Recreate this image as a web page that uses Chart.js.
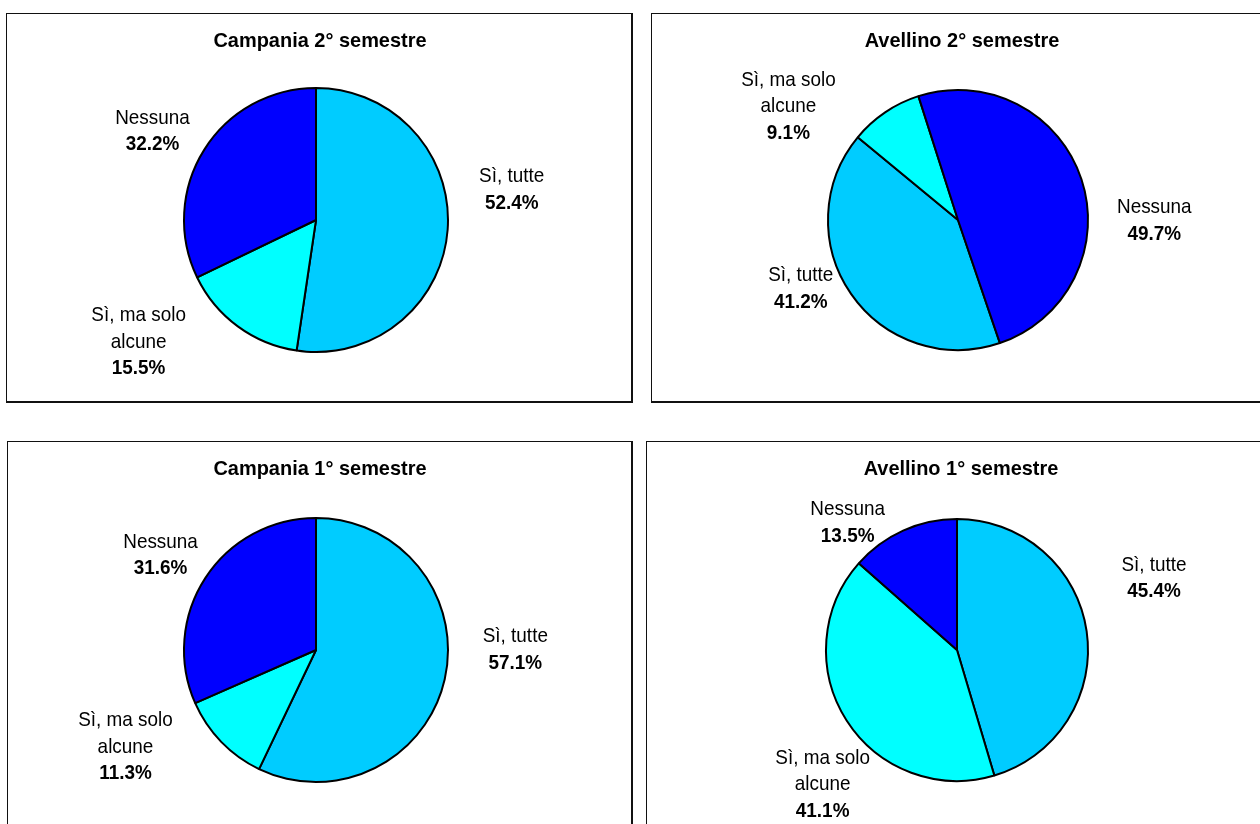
<!DOCTYPE html>
<html><head><meta charset="utf-8">
<script src="https://cdn.jsdelivr.net/npm/chart.js@4.4.1/dist/chart.umd.min.js"></script>
<style>
html,body{margin:0;padding:0;background:#fff;overflow:hidden;width:1260px;height:824px;position:relative;}
.panel{position:absolute;border:1px solid #111;border-right-width:2px;border-bottom-width:2px;box-sizing:border-box;background:#fff;}
.panel canvas{position:absolute;left:0;top:0;}
</style></head><body>
<div class="panel" style="left:6px;top:13px;width:627px;height:390px"><canvas id="c0"></canvas></div>
<div class="panel" style="left:651px;top:13px;width:627px;height:390px"><canvas id="c1"></canvas></div>
<div class="panel" style="left:7px;top:441px;width:626px;height:390px"><canvas id="c2"></canvas></div>
<div class="panel" style="left:646px;top:441px;width:627px;height:390px"><canvas id="c3"></canvas></div>
<script>
// ---- data ----
const categories = ['Sì, tutte', 'Sì, ma solo alcune', 'Nessuna'];
const categoryLines = [['Sì, tutte'], ['Sì, ma solo', 'alcune'], ['Nessuna']];
const campania2 = [52.4, 15.5, 32.2];
const avellino2 = [41.2, 9.1, 49.7];
const campania1 = [57.1, 11.3, 31.6];
const avellino1 = [45.4, 41.1, 13.5];
const chartTitles = ['Campania 2° semestre', 'Avellino 2° semestre', 'Campania 1° semestre', 'Avellino 1° semestre'];

// ---- styles / layout ----
const sliceColors = ['#00CCFF', '#00FFFF', '#0000FF'];
const FONT = '"Liberation Sans", Arial, Helvetica, sans-serif';
const setups = [
  {id:'c0', data:campania2, title:chartTitles[0], w:624, h:387, rotation:0,
   pad:{left:176,right:182,top:73,bottom:48},
   lbl:[[-13.0,1.50],[19.2,1.63],[-3.6,1.41]]},
  {id:'c1', data:avellino2, title:chartTitles[1], w:624, h:387, rotation:161.2,
   pad:{left:175,right:187,top:75,bottom:50},
   lbl:[[11.0,1.32],[-22.1,1.57],[18.5,1.51]]},
  {id:'c2', data:campania1, title:chartTitles[2], w:623, h:387, rotation:0,
   pad:{left:175,right:182,top:75,bottom:46},
   lbl:[[-12.8,1.51],[17.1,1.62],[-1.7,1.38]]},
  {id:'c3', data:avellino1, title:chartTitles[3], w:624, h:387, rotation:0,
   pad:{left:178,right:182,top:76,bottom:47},
   lbl:[[-11.7,1.60],[-12.4,1.45],[-16.4,1.28]]}
];

function drawScaled(ctx, text, x, y, font, sx) {
  ctx.save();
  ctx.font = font;
  ctx.translate(x, y);
  ctx.scale(sx, 1);
  ctx.fillText(text, 0, 0);
  ctx.restore();
}

const labelPlugin = {
  id: 'pieLabels',
  afterDraw(chart, args, opts) {
    const ctx = chart.ctx;
    const meta = chart.getDatasetMeta(0);
    const values = chart.data.datasets[0].data;
    const lineH = 26.5;
    ctx.save();
    ctx.fillStyle = '#000';
    ctx.textAlign = 'center';
    ctx.textBaseline = 'middle';
    // title
    const cx0 = meta.data[0].x;
    drawScaled(ctx, opts.title, cx0 + 4, 27, 'bold 21px ' + FONT, 0.95);
    meta.data.forEach((arc, i) => {
      const p = arc.getProps(['x','y','startAngle','endAngle','outerRadius'], true);
      const mid = (p.startAngle + p.endAngle) / 2 + opts.lbl[i][0] * Math.PI / 180;
      const r = p.outerRadius * opts.lbl[i][1];
      const lx = p.x + Math.cos(mid) * r;
      const ly = p.y + Math.sin(mid) * r;
      const lines = categoryLines[i].map(t => ({t, bold:false}));
      lines.push({t: values[i].toFixed(1) + '%', bold:true});
      const y0 = ly - (lines.length - 1) * lineH / 2;
      lines.forEach((ln, k) => {
        drawScaled(ctx, ln.t, lx, y0 + k * lineH, (ln.bold ? 'bold ' : '') + '21px ' + FONT, 0.9);
      });
    });
    ctx.restore();
  }
};

setups.forEach(s => {
  const cv = document.getElementById(s.id);
  cv.width = s.w; cv.height = s.h;
  cv.style.width = s.w + 'px'; cv.style.height = s.h + 'px';
  new Chart(cv, {
    type: 'pie',
    data: {
      labels: categories,
      datasets: [{
        data: s.data,
        backgroundColor: sliceColors,
        borderColor: '#000',
        borderWidth: 2
      }]
    },
    options: {
      responsive: false,
      animation: false,
      rotation: s.rotation,
      layout: {padding: s.pad},
      plugins: {
        legend: {display: false},
        tooltip: {enabled: false},
        title: {display: false},
        pieLabels: {title: s.title, lbl: s.lbl}
      }
    },
    plugins: [labelPlugin]
  });
});
</script>
</body></html>
